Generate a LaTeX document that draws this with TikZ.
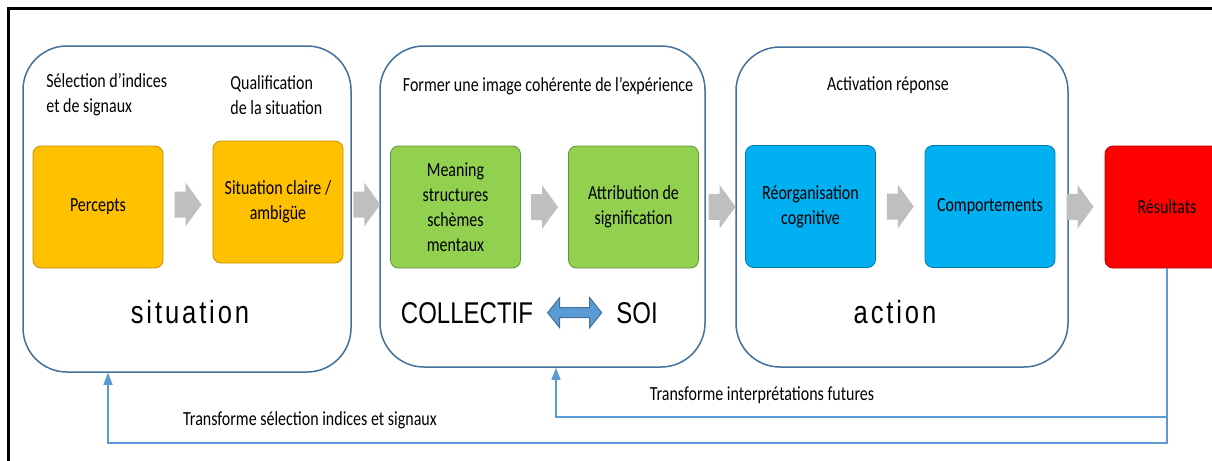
\documentclass[tikz,border=0pt]{standalone}
\usepackage{fontspec}
\setmainfont{Carlito}[FakeStretch=0.8]
\newfontfamily\bigfont{Liberation Sans}[FakeStretch=0.8]
\newfontfamily\spacedfont{Liberation Sans}[FakeStretch=0.8,LetterSpace=9]
\usetikzlibrary{calc,arrows.meta}
\definecolor{boxorange}{HTML}{FFC000}
\definecolor{boxgreen}{HTML}{92D050}
\definecolor{boxblue}{HTML}{00B0F0}
\definecolor{boxred}{HTML}{FF0000}
\definecolor{phaseline}{HTML}{41719C}
\definecolor{loopline}{HTML}{5B9BD5}
\definecolor{arrowgray}{HTML}{BFBFBF}
\def\grayarrow(#1)(#2){\fill[arrowgray] ($(#1.east)!0.5!(#2.west)$) ++(-13.5,-13) -- ++(11,0) -- ++(0,-9) -- ++(16,22) -- ++(-16,22) -- ++(0,-9) -- ++(-11,0) -- cycle;}
\tikzset{
  phase/.style={draw=phaseline, line width=0.75pt, rounded corners=22pt, inner sep=0pt},
  block/.style={rounded corners=4pt, minimum width=65pt, minimum height=61pt, inner sep=0pt, align=center, font=\fontsize{10pt}{12.5pt}\selectfont},
  label/.style={align=left, font=\fontsize{10pt}{12.5pt}\selectfont, inner sep=0pt},
  bigword/.style={font=\bigfont\fontsize{15pt}{18pt}\selectfont, inner sep=0pt},
  spacedword/.style={font=\spacedfont\fontsize{16pt}{19pt}\selectfont, inner sep=0pt},
  loop/.style={draw=loopline, line width=0.7pt, -{Triangle[width=4.5pt,length=6pt]}}
}
\begin{document}
\begin{tikzpicture}[x=0.5pt, y=-0.5pt]
			%%%%% START %%%%%
			\clip (0,0) rectangle (1212,461);
			\fill[white] (0,0) rectangle (1212,461);
			\draw[line width=1.5pt] (8,470) -- (8,8) -- (1220,8);
			
			% three phases
			\node[phase, minimum width=164pt, minimum height=163pt] (sitbox) at (187,209) {};
			\node[phase, minimum width=162.5pt, minimum height=160.5pt] (formbox) at (542.5,206.5) {};
			\node[phase, minimum width=166pt, minimum height=160pt] (actbox) at (902,207) {};
			
			\node[label, anchor=west] (selhead) at (46,95) {Sélection d’indices\\et de signaux};
			\node[label, anchor=west] (qualhead) at (230,95) {Qualification\\de la situation};
			\node[label] (formhead) at (548,86) {Former une image cohérente de l’expérience};
			\node[label] (acthead) at (888,85) {Activation réponse};
			
			% blocks
			\node[block, fill=boxorange, draw=boxorange!75!black] (percepts) at (98,207) {Percepts};
			\node[block, fill=boxorange, draw=boxorange!75!black] (situ) at (278,202) {Situation claire /\\ambigüe};
			\node[block, fill=boxgreen, draw=boxgreen!70!black] (meaning) at (455.5,207) {Meaning\\structures\\schèmes\\mentaux};
			\node[block, fill=boxgreen, draw=boxgreen!70!black] (attrib) at (633.5,207) {Attribution de\\signification};
			\node[block, fill=boxblue, draw=boxblue!70!black] (reorg) at (810.5,206.5) {Réorganisation\\cognitive};
			\node[block, fill=boxblue, draw=boxblue!70!black] (comport) at (990,206.5) {Comportements};
			\node[block, fill=boxred, draw=boxred!70!black, minimum width=62pt] (res) at (1167,207) {Résultats};
			
			\grayarrow(percepts)(situ)
			\grayarrow(situ)(meaning)
			\grayarrow(meaning)(attrib)
			\grayarrow(attrib)(reorg)
			\grayarrow(reorg)(comport)
			\grayarrow(comport)(res)
			
			% big words
			\node[spacedword, anchor=base] (sitword) at (190,323) {situation};
			\node[bigword, anchor=base] (coll) at (467,323) {COLLECTIF};
			\node[bigword, anchor=base] (soi) at (637,323) {SOI};
			\node[spacedword, anchor=base] (actword) at (895,323) {action};
			\draw[fill=loopline, draw=phaseline, line width=0.5pt] ($(coll.east)!0.5!(soi.west)$) ++(-27,0) -- ++(12,-15) -- ++(0,10) -- ++(30,0) -- ++(0,-10) -- ++(12,15) -- ++(-12,15) -- ++(0,-10) -- ++(-30,0) -- ++(0,10) -- cycle;
			
			% feedback loops
			\coordinate (lowturn) at (108,443);
			\coordinate (highturn) at (556,417);
			\draw[loop] (res.south) |- (lowturn) -- (lowturn |- sitbox.south);
			\draw[loop] (res.south) |- (highturn) -- (highturn |- formbox.south);
			\node[label] (lowlabel) at (310,420) {Transforme sélection indices et signaux};
			\node[label] (highlabel) at (762,395) {Transforme interprétations futures};
			%%%%% END %%%%%
\end{tikzpicture}
\end{document}
